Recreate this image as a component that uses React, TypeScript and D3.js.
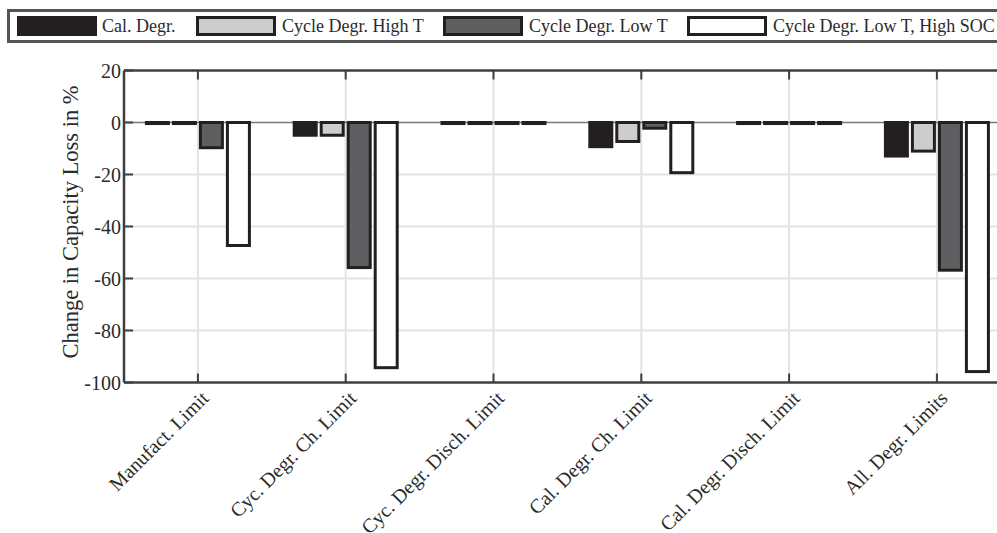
import React from 'react';
import * as d3 from 'd3';

// categories on the x axis
const categories = [
  'Manufact. Limit',
  'Cyc. Degr. Ch. Limit',
  'Cyc. Degr. Disch. Limit',
  'Cal. Degr. Ch. Limit',
  'Cal. Degr. Disch. Limit',
  'All. Degr. Limits',
];

const seriesNames = ['Cal. Degr.', 'Cycle Degr. High T', 'Cycle Degr. Low T', 'Cycle Degr. Low T, High SOC'];
const seriesFill = ['#231f20', '#cdcdcf', '#5f5f61', '#ffffff'];

// change in capacity loss in %, one array per series
const calDegr = [-0.4, -4.9, -0.4, -9.3, -0.4, -12.9];
const cycHighT = [-0.4, -4.9, -0.4, -7.3, -0.4, -11.0];
const cycLowT = [-9.7, -55.8, -0.4, -2.2, -0.4, -56.8];
const cycLowTHighSoc = [-47.3, -94.3, -0.4, -19.3, -0.4, -95.8];
const seriesValues = [calDegr, cycHighT, cycLowT, cycLowTHighSoc];

const yTicks = [20, 0, -20, -40, -60, -80, -100];

// legend entry x positions (swatch start, text start)
const legendSwatchX = [17, 196, 443, 687];
const legendTextX = [102, 282, 529, 773];

const W = 997;
const H = 533;
const left = 124;
const top = 70.5;
const bottom = 382.5;
const step = 147.8;

export default function App() {
  const x0 = d3.scaleBand<string>()
    .domain(categories)
    .range([left, left + step * categories.length])
    .padding(0);
  const x1 = d3.scaleBand<string>()
    .domain(seriesNames)
    .range([-54, 54])
    .paddingInner(0.185)
    .paddingOuter(0.0925);
  const y = d3.scaleLinear().domain([-100, 20]).range([bottom, top]);
  const right = x0.range()[1];
  const font = '"Liberation Serif", "Times New Roman", serif';
  const textColor = '#2b2b2b';
  const axisColor = '#3f3f3f';

  return (
    <svg width={W} height={H} style={{ position: 'absolute', left: 0, top: 0, background: '#fff' }} fontFamily={font}>
      {/* legend */}
      <rect x={8.5} y={10.5} width={1100} height={31} fill="#fff" stroke="#555" strokeWidth={3} />
      {seriesNames.map((s, i) => (
        <g key={s}>
          <rect
            x={legendSwatchX[i] + 1.5}
            y={17.5}
            width={77}
            height={17}
            fill={seriesFill[i]}
            stroke="#231f20"
            strokeWidth={3}
          />
          <text x={legendTextX[i]} y={32} fontSize={18} fill={textColor}>{s}</text>
        </g>
      ))}

      {/* grid */}
      {yTicks.filter(t => t !== 20 && t !== 0 && t !== -100).map(t => (
        <line key={t} x1={left} x2={right} y1={y(t)} y2={y(t)} stroke="#e3e3e5" strokeWidth={2} />
      ))}
      {categories.map(c => {
        const cx = x0(c)! + x0.bandwidth() / 2;
        return <line key={c} x1={cx} x2={cx} y1={top} y2={bottom} stroke="#e3e3e5" strokeWidth={2} />;
      })}
      <line x1={left} x2={right} y1={y(0)} y2={y(0)} stroke="#7a7a7a" strokeWidth={1.5} />

      {/* bars */}
      {categories.map((c, ci) => (
        <g key={c} transform={`translate(${x0(c)! + x0.bandwidth() / 2},0)`}>
          {seriesNames.map((s, si) => {
            const v = seriesValues[si][ci];
            return (
              <rect
                key={s}
                x={x1(s)!}
                y={y(Math.max(0, v))}
                width={x1.bandwidth()}
                height={Math.abs(y(v) - y(0))}
                fill={seriesFill[si]}
                stroke="#231f20"
                strokeWidth={3}
              />
            );
          })}
        </g>
      ))}

      {/* axes box and ticks */}
      <line x1={left} x2={right} y1={top} y2={top} stroke={axisColor} strokeWidth={2.5} />
      <line x1={left} x2={right} y1={bottom} y2={bottom} stroke={axisColor} strokeWidth={2.5} />
      <line x1={left} x2={left} y1={top} y2={bottom} stroke={axisColor} strokeWidth={2.5} />
      {yTicks.map(t => (
        <g key={t}>
          <line x1={left} x2={left + 9} y1={y(t)} y2={y(t)} stroke={axisColor} strokeWidth={2} />
          <text x={121} y={y(t)} dy="0.35em" textAnchor="end" fontSize={20} fill={textColor}>{t}</text>
        </g>
      ))}
      {categories.map(c => {
        const cx = x0(c)! + x0.bandwidth() / 2;
        return (
          <g key={c}>
            <line x1={cx} x2={cx} y1={top} y2={top + 9} stroke={axisColor} strokeWidth={2} />
            <line x1={cx} x2={cx} y1={bottom} y2={bottom - 9} stroke={axisColor} strokeWidth={2} />
            <text
              transform={`translate(${cx + 7},${bottom + 12}) rotate(-45)`}
              dy="0.35em"
              textAnchor="end"
              fontSize={20}
              fill={textColor}
            >
              {c}
            </text>
          </g>
        );
      })}

      <text
        transform={`translate(70,222) rotate(-90)`}
        dy="0.35em"
        textAnchor="middle"
        fontSize={22.5}
        fill={textColor}
      >
        Change in Capacity Loss in %
      </text>
    </svg>
  );
}
